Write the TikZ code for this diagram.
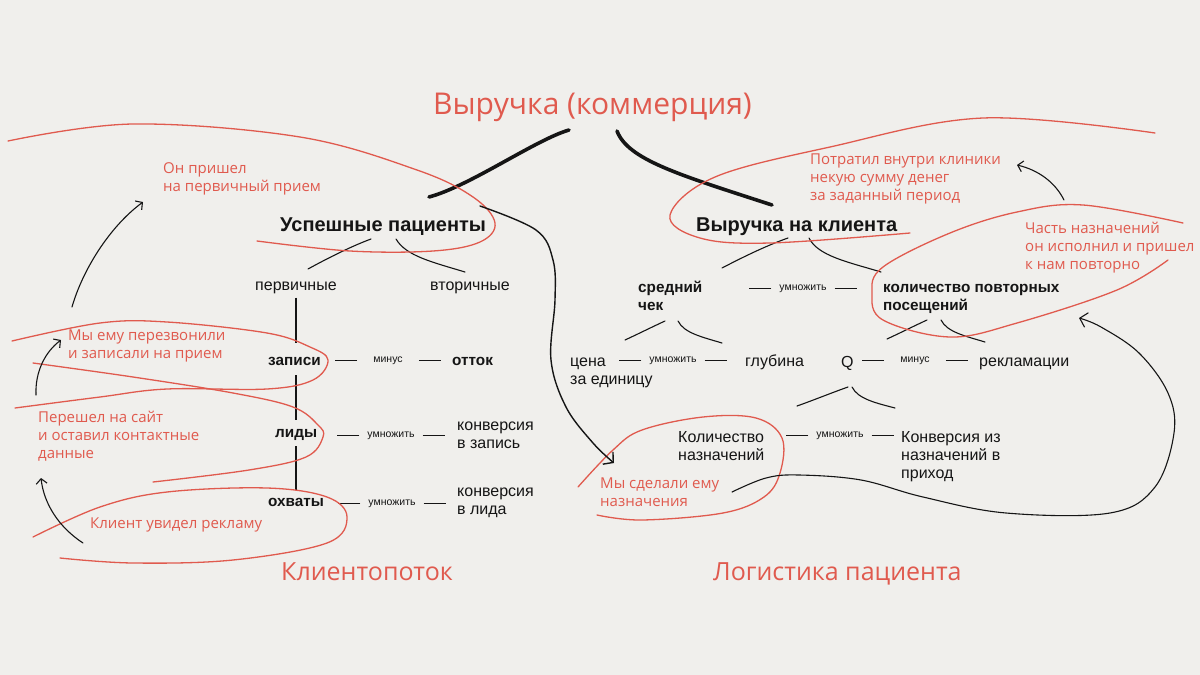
\documentclass[tikz,border=0pt]{standalone}
\usepackage{fontspec}
\setmainfont{Liberation Sans}
\newfontfamily\redfont{Open Sans}
\usetikzlibrary{arrows.meta}
\definecolor{bgc}{HTML}{F0EFEC}
\definecolor{redc}{HTML}{E05A4E}
\definecolor{inkc}{HTML}{151515}
\newcommand{\mlines}[1]{\begin{tabular}[t]{@{}l@{}}#1\end{tabular}}
\newcommand{\oplinks}[2]{%
  \draw[dashlink] ([xshift=-#2]#1.west) -- ([xshift=-#2-22pt]#1.west);
  \draw[dashlink] ([xshift=#2]#1.east) -- ([xshift=#2+22pt]#1.east);}
\begin{document}
\begin{tikzpicture}[x=1pt,y=-1pt,
  txt/.style={inner sep=0pt, anchor=base west, text=inkc, font=\fontsize{16}{18}\selectfont},
  btxt/.style={txt, font=\fontsize{15.3}{18}\selectfont\bfseries},
  bigtxt/.style={txt, font=\fontsize{20}{24}\selectfont\bfseries},
  optxt/.style={inner sep=0pt, anchor=center, text=inkc, font=\fontsize{10.5}{12}\selectfont, text height=5.5pt, text depth=0pt},
  rtxt/.style={inner sep=0pt, anchor=base west, text=redc, font=\redfont\fontsize{15}{18}\selectfont},
  ttltxt/.style={inner sep=0pt, anchor=base west, text=redc, font=\redfont\fontsize{30}{36}\selectfont},
  secttxt/.style={inner sep=0pt, anchor=base west, text=redc, font=\redfont\fontsize{25}{30}\selectfont},
  rline/.style={draw=redc, line width=1.3pt, line cap=round},
  ink/.style={draw=inkc, line width=1.1pt, line cap=round},
  heavy/.style={draw=inkc, line width=3.6pt, line cap=round},
  vline/.style={draw=inkc, line width=2.7pt},
  dashlink/.style={draw=inkc, line width=0.9pt},
  arr/.style={ink, -{Straight Barb[length=5pt,width=11pt]}},
  bigarr/.style={draw=inkc, line width=1.4pt, line cap=round, -{Straight Barb[length=7pt,width=16pt]}}
]
\fill[bgc] (0,0) rectangle (1200,675);
\useasboundingbox (0,0) rectangle (1200,675);

% ---------- titles ----------
\node[ttltxt] (title) at (433,114) {Выручка (коммерция)};
\node[secttxt] (flow) at (281,580) {Клиентопоток};
\node[secttxt] (logi) at (713,580) {Логистика пациента};

% ---------- left tree ----------
\node[bigtxt] (succ) at (280,231) {Успешные пациенты};
\node[txt] (perv) at (255,290) {первичные};
\node[txt] (vtor) at (430,290) {вторичные};
\node[btxt] (zap) at (268,365) {записи};
\node[btxt] (ott) at (452,365) {отток};
\node[btxt] (lid) at (275,437) {лиды};
\node[btxt] (ohv) at (268,506) {охваты};
\node[txt] (konv1) at (457,430) {\mlines{конверсия\\в запись}};
\node[txt] (konv2) at (457,496) {\mlines{конверсия\\в лида}};
\node[optxt] (op1) at (388,360) {минус};
\node[optxt] (op2) at (391,435) {умножить};
\node[optxt] (op3) at (392,503) {умножить};
\oplinks{op1}{16pt}
\oplinks{op2}{8pt}
\oplinks{op3}{8pt}

\draw[vline, shorten <=4pt, shorten >=14pt] (perv.south) -- (perv.south |- zap.north);
\draw[vline, shorten <=10pt, shorten >=9pt] (perv.south |- zap.south) -- (perv.south |- lid.north);
\draw[vline, shorten <=6pt, shorten >=8pt] (perv.south |- lid.south) -- (perv.south |- ohv.north);

% ---------- right tree ----------
\node[bigtxt] (vnk) at (696,231) {Выручка на клиента};
\node[btxt] (sch) at (638,292) {\mlines{средний\\чек}};
\node[btxt] (kpp) at (883,292) {\mlines{количество повторных\\посещений}};
\node[txt] (cena) at (570,366) {\mlines{цена\\за единицу}};
\node[txt] (glub) at (745,366) {глубина};
\node[txt] (qq) at (841,367) {Q};
\node[txt] (rekl) at (979,366) {рекламации};
\node[txt] (kn) at (678,442) {\mlines{Количество\\назначений}};
\node[txt] (kz) at (901,442) {\mlines{Конверсия из\\назначений в\\приход}};
\node[optxt] (op4) at (803,288) {умножить};
\node[optxt] (op5) at (673,360) {умножить};
\node[optxt] (op6) at (915,360) {минус};
\node[optxt] (op7) at (840,435) {умножить};
\oplinks{op4}{8pt}
\oplinks{op5}{8pt}
\oplinks{op6}{16pt}
\oplinks{op7}{8pt}

% ---------- red notes ----------
\node[rtxt] (r1) at (163,173) {\mlines{Он пришел\\на первичный прием}};
\node[rtxt] (r2) at (68,340) {\mlines{Мы ему перезвонили\\и записали на прием}};
\node[rtxt] (r3) at (38,422) {\mlines{Перешел на сайт\\и оставил контактные\\данные}};
\node[rtxt] (r4) at (90,528) {Клиент увидел рекламу};
\node[rtxt] (r5) at (810,164) {\mlines{Потратил внутри клиники\\некую сумму денег\\за заданный период}};
\node[rtxt] (r6) at (1025,233) {\mlines{Часть назначений\\он исполнил и пришел\\к нам повторно}};
\node[rtxt] (r7) at (600,488) {\mlines{Мы сделали ему\\назначения}};

% ---------- heavy strokes from the title ----------
\draw[heavy] (569,130) .. controls (535,140) and (470,186) .. (429,197);
\draw[heavy] (617,131) .. controls (628,160) and (680,175) .. (772,205);

% ---------- thin tree strokes ----------
\draw[ink] (371,239) .. controls (352,246) and (328,258) .. (308,269);
\draw[ink] (396,239) .. controls (406,256) and (432,262) .. (465,272);
\draw[ink] (788,238) .. controls (768,245) and (745,256) .. (722,268);
\draw[ink] (809,238) .. controls (818,256) and (848,262) .. (881,272);
\draw[ink] (665,321) .. controls (652,327) and (638,334) .. (625,340);
\draw[ink] (678,321) .. controls (684,333) and (702,337) .. (722,343);
\draw[ink] (927,320) .. controls (914,326) and (900,333) .. (887,339);
\draw[ink] (941,320) .. controls (947,332) and (965,336) .. (985,342);
\draw[ink] (848,387) .. controls (831,393) and (814,400) .. (797,406);
\draw[ink] (852,387) .. controls (858,399) and (876,403) .. (895,408);

% ---------- red loops ----------
\draw[rline] plot[smooth, tension=0.6] coordinates {(8,141) (133,124) (300,137) (417,170) (473,197) (495,223) (480,242) (433,251) (350,251) (257,241)};
\draw[rline] plot[smooth, tension=0.6] coordinates {(1155,133) (983,118) (830,147) (715,177) (670,215) (700,238) (770,243) (910,233)};
\draw[rline] plot[smooth, tension=0.6] coordinates {(1183,223) (1083,205) (1017,212) (950,233) (883,267) (872,293) (883,320) (950,337) (1017,323) (1117,290) (1168,260)};
\draw[rline] plot[smooth, tension=0.6] coordinates {(12,341) (100,323) (167,322) (267,333) (310,347) (328,360) (313,380) (267,389) (167,389) (100,397) (15,408)};
\draw[rline] plot[smooth, tension=0.6] coordinates {(33,363) (133,377) (233,393) (293,407) (318,425) (323,437) (306,457) (249,470) (153,482)};
\draw[rline] plot[smooth, tension=0.6] coordinates {(33,537) (100,507) (167,492) (267,488) (327,497) (347,517) (327,543) (233,560) (133,563) (60,558)};
\draw[rline] plot[smooth, tension=0.6] coordinates {(578,487) (613,450) (642,430) (703,417) (756,418) (782,438) (780,473) (764,497) (723,513) (642,520) (597,515)};

% ---------- arrows ----------
\coordinate (a1s) at (72,307);
\coordinate (a1e) at (143,202);
\draw[arr] (a1s) .. controls (82,272) and (108,228) .. (a1e);
\coordinate (a2s) at (36,395);
\coordinate (a2e) at (61,340);
\draw[arr] (a2s) .. controls (35,372) and (45,352) .. (a2e);
\coordinate (a3s) at (83,543);
\coordinate (a3e) at (41,478);
\draw[arr] (a3s) .. controls (60,528) and (44,505) .. (a3e);
\coordinate (a4s) at (1064,200);
\coordinate (a4e) at (1017,165);
\draw[arr] (a4s) .. controls (1055,182) and (1038,170) .. (a4e);

\draw[bigarr] plot[smooth, tension=0.6] coordinates {(480,206) (536,230) (553,260) (555,300) (551,360) (566,407) (593,443) (614,463)};
\draw[ink, -{Straight Barb[length=7pt,width=15pt]}] plot[smooth, tension=0.6] coordinates {(732,492) (766,478) (799,475) (861,480) (923,497) (1006,513) (1110,513) (1155,487) (1174,433) (1168,393) (1139,353) (1101,327) (1079,318)};
\end{tikzpicture}
\end{document}
